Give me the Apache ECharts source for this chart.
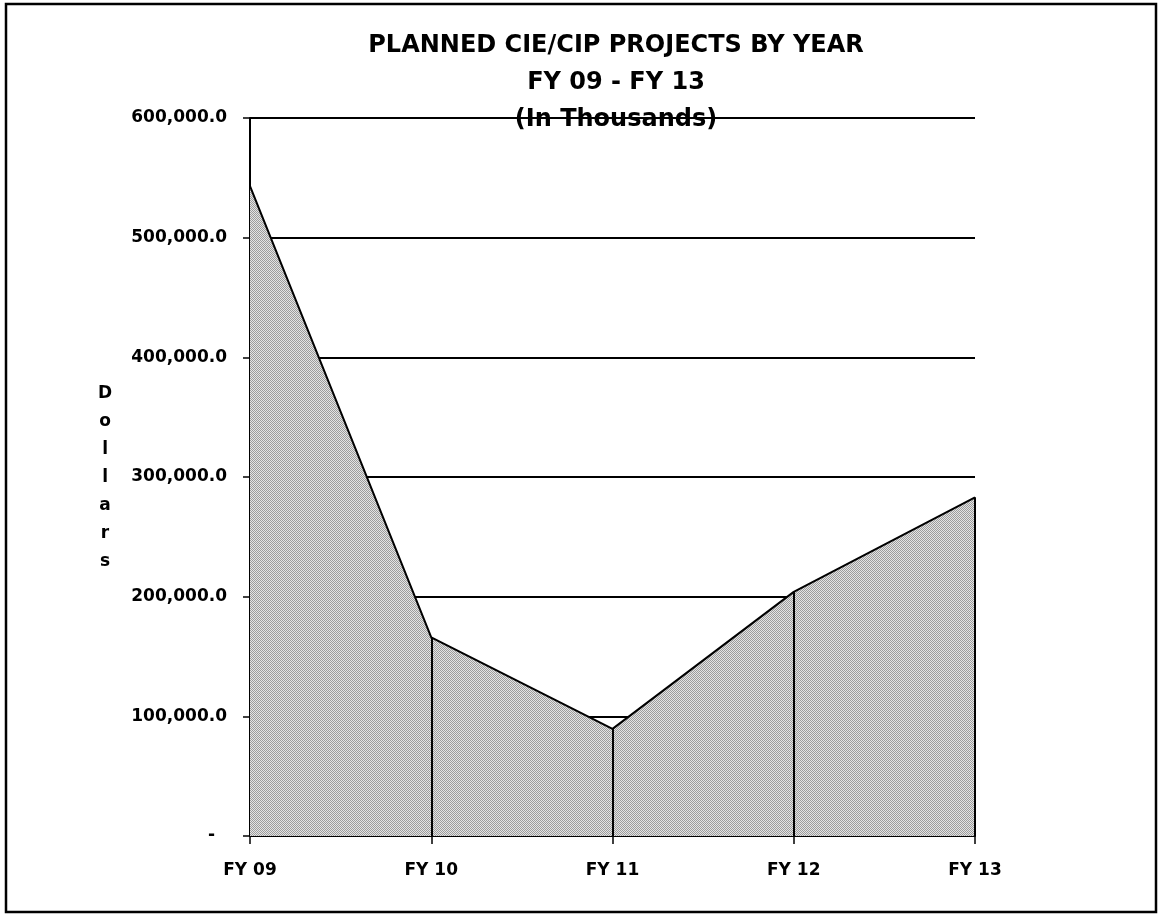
<!DOCTYPE html>
<html>
<head>
<meta charset="utf-8">
<script src="https://cdn.jsdelivr.net/npm/echarts@6/dist/echarts.min.js"></script>
<style>
  html, body { margin: 0; padding: 0; background: #fff; }
  #chart { width: 1160px; height: 916px; }
</style>
</head>
<body>
<div id="chart"></div>
<script>
  // data (in thousands of dollars)
  var years = ['FY 09', 'FY 10', 'FY 11', 'FY 12', 'FY 13'];
  var planned = [543000, 166000, 89500, 204000, 283000];
  var titleLines = ['PLANNED CIE/CIP PROJECTS BY YEAR', 'FY 09 - FY 13', '(In Thousands)'];
  var yName = 'Dollars';

  var font = '"DejaVu Sans", "Liberation Sans", Arial, sans-serif';

  // the scan's fill is a dithered grey, so build a small checker pattern
  function ditherPattern() {
    var c = document.createElement('canvas');
    c.width = 4; c.height = 4;
    var ctx = c.getContext('2d');
    ctx.fillStyle = '#e4e4e4';
    ctx.fillRect(0, 0, 4, 4);
    ctx.fillStyle = '#9c9c9c';
    for (var y = 0; y < 4; y++) {
      for (var x = 0; x < 4; x++) {
        if ((x + y) % 2 === 0) ctx.fillRect(x, y, 1, 1);
      }
    }
    return c;
  }

  // vertical drop lines from each point down to the axis
  var dropLines = [];
  for (var i = 1; i < years.length; i++) {
    dropLines.push([{ coord: [i, 0] }, { coord: [i, planned[i]] }]);
  }

  var myChart = echarts.init(document.getElementById('chart'));
  myChart.setOption({
    animation: false,
    backgroundColor: '#fff',
    title: {
      text: titleLines.join('\n'),
      left: 611,
      textAlign: 'center',
      top: 22,
      textStyle: { fontFamily: font, fontSize: 24, fontWeight: 'bold', color: '#000', lineHeight: 37 }
    },
    grid: { left: 250, right: 185, top: 118, bottom: 80 },
    xAxis: {
      type: 'category',
      data: years,
      boundaryGap: false,
      axisLine: { lineStyle: { color: '#000', width: 2 } },
      axisTick: { show: true, length: 8, lineStyle: { color: '#000', width: 1.5 } },
      axisLabel: { margin: 26, fontFamily: font, fontSize: 17, fontWeight: 'bold', color: '#000' },
      splitLine: { show: false }
    },
    yAxis: {
      type: 'value',
      min: 0,
      max: 600000,
      interval: 100000,
      axisLine: { show: true, lineStyle: { color: '#000', width: 2 } },
      axisTick: { show: true, length: 7, lineStyle: { color: '#000', width: 1.5 } },
      axisLabel: {
        margin: 23,
        fontFamily: font, fontSize: 17, fontWeight: 'bold', color: '#000',
        formatter: function (v) {
          if (v === 0) return '-  ';
          return v.toLocaleString('en-US') + '.0';
        }
      },
      splitLine: { show: true, lineStyle: { color: '#000', width: 2 } }
    },
    graphic: [
      {
        type: 'rect',
        shape: { x: 6, y: 4, width: 1150, height: 908 },
        style: { fill: 'none', stroke: '#000', lineWidth: 2.5 },
        silent: true
      },
      {
        type: 'text',
        left: 98,
        top: 380,
        style: {
          text: yName.split('').join('\n'),
          font: 'bold 17px ' + font,
          fill: '#000',
          lineHeight: 28,
          textAlign: 'center'
        }
      }
    ],
    series: [
      {
        name: 'Planned',
        type: 'line',
        data: planned,
        symbol: 'none',
        lineStyle: { color: '#000', width: 2 },
        areaStyle: { color: { image: ditherPattern(), repeat: 'repeat' }, opacity: 1 },
        markLine: {
          silent: true,
          symbol: 'none',
          label: { show: false },
          lineStyle: { color: '#000', width: 2, type: 'solid' },
          data: dropLines
        }
      }
    ]
  });
</script>
</body>
</html>
